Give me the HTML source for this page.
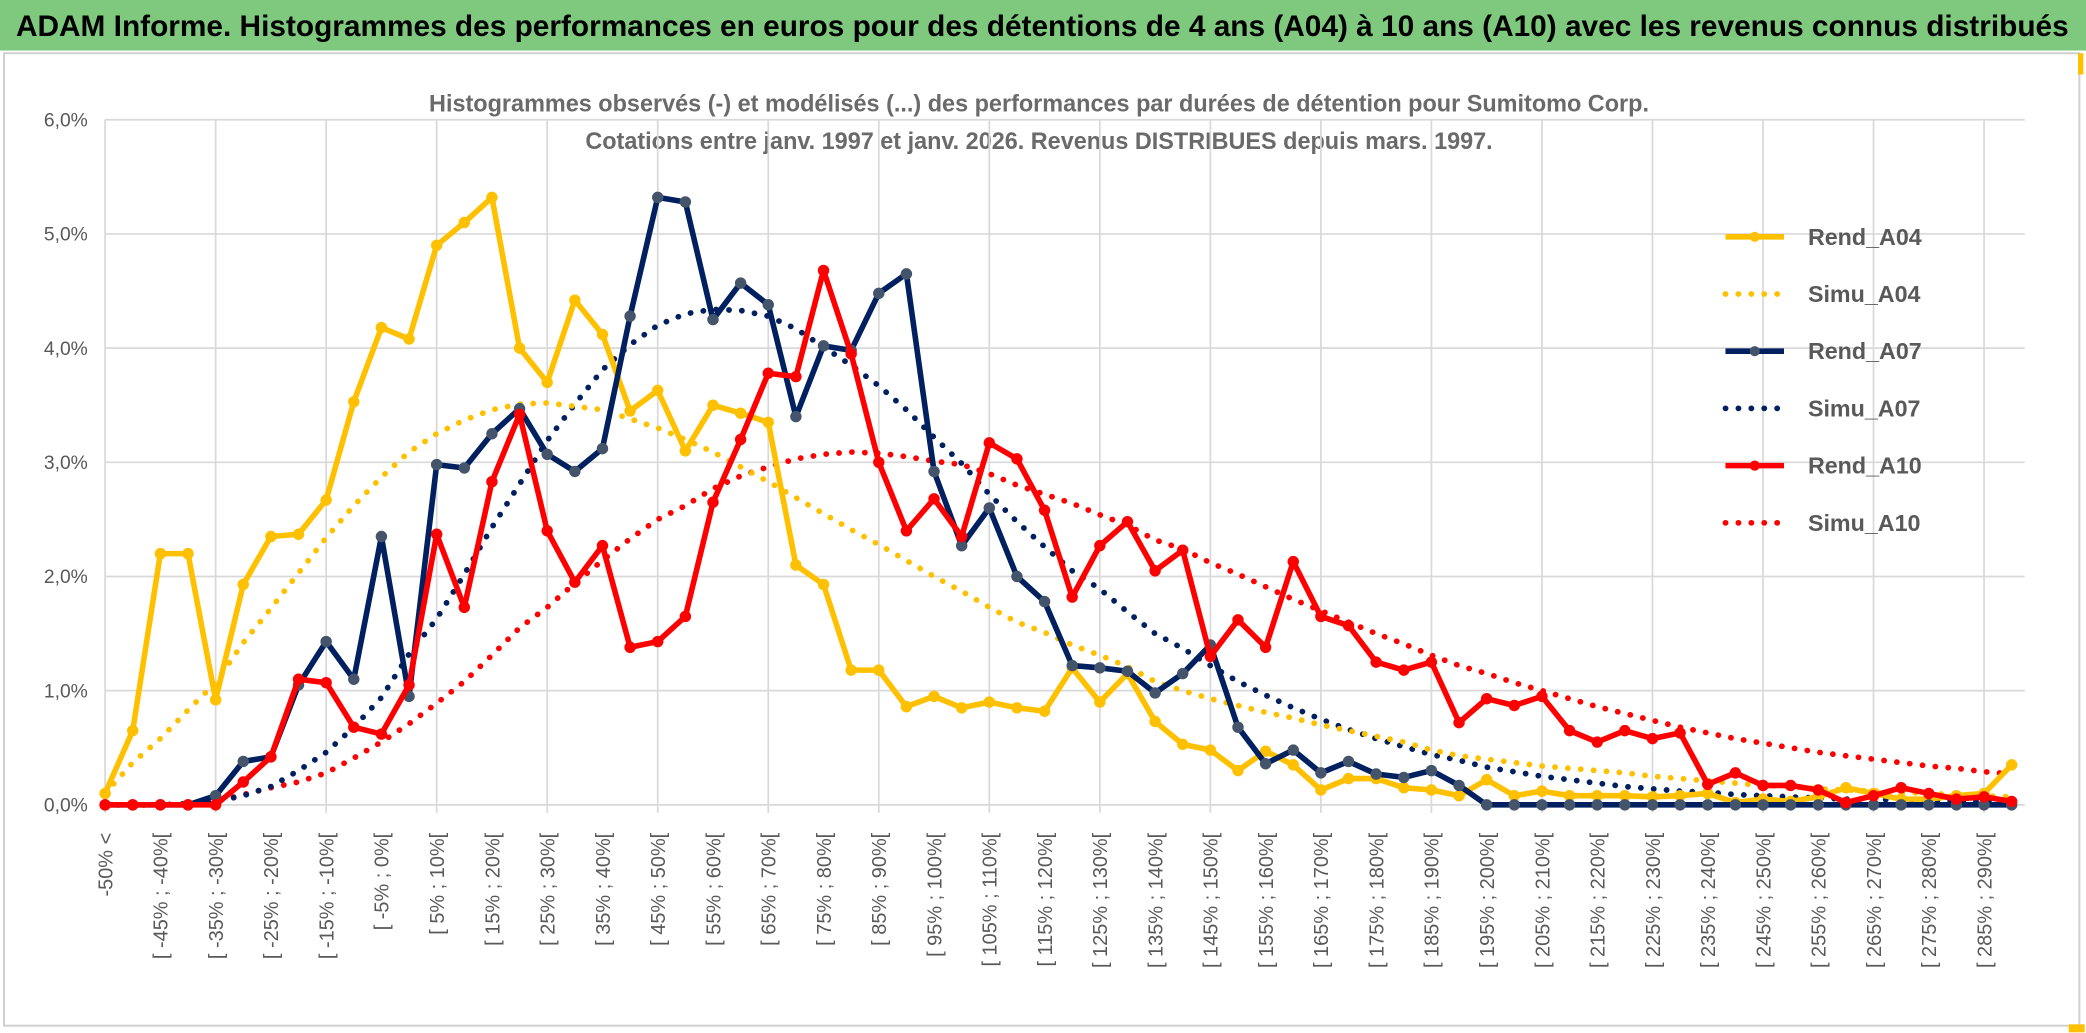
<!DOCTYPE html>
<html><head><meta charset="utf-8">
<style>
html,body{margin:0;padding:0;background:#fff;}
svg{display:block;font-family:"Liberation Sans",sans-serif;}
</style></head>
<body>
<svg id="chart" width="2086" height="1033" viewBox="0 0 1568 776.5" preserveAspectRatio="none" xmlns="http://www.w3.org/2000/svg">
  <rect x="0" y="0" width="1568" height="776.5" fill="#ffffff"/>
  <rect x="0" y="0" width="1568" height="38" fill="#7fc97f"/>
  <text x="12" y="27" font-size="22" font-weight="bold" fill="#000" textLength="1543" lengthAdjust="spacingAndGlyphs">ADAM Informe. Histogrammes des performances en euros pour des détentions de 4 ans (A04) à 10 ans (A10) avec les revenus connus distribués</text>
  <rect x="3" y="40" width="1560" height="731" fill="none" stroke="#d0d0d0" stroke-width="1.5"/>
  <rect x="1562" y="40" width="4" height="16" fill="#ffc000"/>
  <rect x="1555" y="770" width="12" height="6" fill="#ffc000"/>
  <text x="781" y="84" font-size="18" font-weight="bold" fill="#6a6a6a" text-anchor="middle" textLength="917" lengthAdjust="spacingAndGlyphs">Histogrammes observés (-) et modélisés (...) des performances par durées de détention pour Sumitomo Corp.</text>
  <text x="781" y="112" font-size="18" font-weight="bold" fill="#6a6a6a" text-anchor="middle" textLength="682" lengthAdjust="spacingAndGlyphs">Cotations entre janv. 1997 et janv. 2026. Revenus DISTRIBUES depuis mars. 1997.</text>
  <g id="grid"></g>
  <g id="axes"></g>
  <g id="series"></g>
  <g id="legend"></g>
</svg>
<script>
const categories = (function(){ const c = ["-50% <"]; for (let k = 1; k < 70; k++) { const a = -55 + 5*k, b = -50 + 5*k; c.push("[ " + a + "% ; " + b + "%["); } return c; })();
const yTicks = [0,1,2,3,4,5,6];
const yTickLabels = ["0,0%","1,0%","2,0%","3,0%","4,0%","5,0%","6,0%"];
const rendA04 = [0.1,0.65,2.2,2.2,0.92,1.93,2.35,2.37,2.67,3.53,4.18,4.08,4.9,5.1,5.32,4.0,3.7,4.42,4.12,3.45,3.63,3.1,3.5,3.43,3.35,2.1,1.93,1.18,1.18,0.86,0.95,0.85,0.9,0.85,0.82,1.2,0.9,1.15,0.73,0.53,0.48,0.3,0.47,0.35,0.13,0.23,0.23,0.15,0.13,0.08,0.22,0.08,0.12,0.08,0.08,0.08,0.07,0.08,0.1,0.02,0.05,0.03,0.07,0.15,0.1,0.05,0.05,0.08,0.1,0.35];
const simuA04 = [0.1,0.37,0.58,0.83,1.07,1.42,1.72,2.03,2.34,2.62,2.87,3.09,3.25,3.37,3.46,3.51,3.52,3.49,3.46,3.38,3.3,3.2,3.09,2.96,2.83,2.69,2.55,2.41,2.28,2.14,2.0,1.87,1.73,1.6,1.51,1.4,1.31,1.21,1.08,1.0,0.93,0.87,0.81,0.76,0.7,0.65,0.6,0.55,0.48,0.43,0.4,0.37,0.34,0.32,0.3,0.28,0.25,0.23,0.21,0.19,0.17,0.16,0.14,0.13,0.12,0.11,0.1,0.09,0.08,0.07];
const rendA07 = [0,0,0,0,0.08,0.38,0.42,1.05,1.43,1.1,2.35,0.95,2.98,2.95,3.25,3.47,3.07,2.92,3.12,4.28,5.32,5.28,4.25,4.57,4.38,3.4,4.02,3.98,4.48,4.65,2.92,2.27,2.6,2.0,1.78,1.22,1.2,1.17,0.98,1.15,1.4,0.68,0.36,0.48,0.28,0.38,0.27,0.24,0.3,0.17,0,0,0,0,0,0,0,0,0,0,0,0,0,0,0,0,0,0,0,0];
const simuA07 = [0,0,0,0.01,0.03,0.08,0.16,0.3,0.46,0.68,0.94,1.32,1.63,2.02,2.43,2.81,3.19,3.51,3.81,4.03,4.2,4.3,4.34,4.33,4.28,4.17,4.01,3.85,3.67,3.46,3.22,2.99,2.72,2.48,2.26,2.05,1.89,1.69,1.5,1.37,1.22,1.08,0.96,0.85,0.75,0.66,0.58,0.51,0.44,0.39,0.33,0.29,0.25,0.22,0.19,0.16,0.14,0.12,0.11,0.09,0.08,0.07,0.06,0.05,0.05,0.04,0.04,0.03,0.03,0.02];
const rendA10 = [0,0,0,0,0,0.2,0.42,1.1,1.07,0.68,0.62,1.05,2.37,1.73,2.83,3.42,2.4,1.95,2.27,1.38,1.43,1.65,2.65,3.2,3.78,3.75,4.68,3.95,3.0,2.4,2.68,2.35,3.17,3.03,2.58,1.82,2.27,2.48,2.05,2.23,1.3,1.62,1.38,2.13,1.65,1.57,1.25,1.18,1.25,0.72,0.93,0.87,0.95,0.65,0.55,0.65,0.58,0.63,0.18,0.28,0.17,0.17,0.13,0.02,0.08,0.15,0.1,0.05,0.07,0.03];
const simuA10 = [0,0,0,0.01,0.03,0.09,0.15,0.2,0.28,0.41,0.55,0.71,0.89,1.08,1.31,1.55,1.73,1.94,2.14,2.33,2.5,2.62,2.77,2.88,2.96,3.03,3.07,3.09,3.08,3.05,3.01,2.98,2.9,2.8,2.72,2.64,2.54,2.45,2.32,2.24,2.12,2.02,1.91,1.8,1.7,1.6,1.5,1.41,1.31,1.22,1.15,1.07,1.0,0.93,0.86,0.8,0.74,0.68,0.63,0.58,0.54,0.5,0.46,0.43,0.4,0.37,0.34,0.32,0.29,0.27];

const NS = "http://www.w3.org/2000/svg";
const X0 = 79, DX = 20.77, Y0 = 605, DY = 85.83;
function xPos(i){ return X0 + DX*i; }
function yPos(v){ return Y0 - DY*v; }
function mk(tag, attrs, parent){ const e = document.createElementNS(NS, tag); for (const k in attrs) e.setAttribute(k, attrs[k]); parent.appendChild(e); return e; }

const grid = document.getElementById("grid");
const axes = document.getElementById("axes");
const xRight = 1522;
yTicks.forEach((t, k) => {
  const gl = mk("line", {x1: X0, x2: xRight, y1: yPos(t), y2: yPos(t), stroke: "#d9d9d9", "stroke-width": 1.3}, grid);
  
  
  const tl = mk("text", {x: 66, y: yPos(t) + 5, "font-size": 14.5, fill: "#595959", "text-anchor": "end"}, axes);
  tl.textContent = yTickLabels[k];
  
  
});
for (let i = 0; i < categories.length; i += 4) {
  const vl = mk("line", {x1: xPos(i), x2: xPos(i), y1: yPos(6), y2: Y0 + 6, stroke: "#d9d9d9", "stroke-width": 1.3}, grid);
  
  
}
for (let i = 0; i < categories.length; i += 2) {
  const x = xPos(i) + 5.5;
  const lbl = mk("text", {x: 0, y: 0, "font-size": 15, fill: "#595959", "text-anchor": "end", transform: "translate(" + x + ",626) rotate(-90)"}, axes);
  lbl.textContent = categories[i];
  
  
}

const seriesG = document.getElementById("series");
function drawSeries(name, values, color, dotted, markerFill){
  const pts = values.map((v, i) => xPos(i).toFixed(2) + "," + yPos(v).toFixed(2)).join(" ");
  const g = mk("g", {}, seriesG);
  
  
  const attrs = {points: pts, fill: "none", stroke: color, "stroke-linejoin": "round"};
  if (dotted) { attrs["stroke-width"] = 4.3; attrs["stroke-dasharray"] = "0.1 9.6"; attrs["stroke-linecap"] = "round"; }
  else { attrs["stroke-width"] = 4.2; }
  const pl = mk("polyline", attrs, g);
  
  
  if (!dotted) {
    values.forEach((v, i) => {
      const c = mk("circle", {cx: xPos(i), cy: yPos(v), r: 3.8, fill: markerFill, stroke: markerFill}, g);
      
      
    });
  }
}
drawSeries("Simu_A10", simuA10, "#ff0000", true);
drawSeries("Simu_A07", simuA07, "#002060", true);
drawSeries("Simu_A04", simuA04, "#ffc000", true);
drawSeries("Rend_A04", rendA04, "#ffc000", false, "#ffc000");
drawSeries("Rend_A07", rendA07, "#002060", false, "#44546a");
drawSeries("Rend_A10", rendA10, "#ff0000", false, "#ff0000");

const legendNames = ["Rend_A04","Simu_A04","Rend_A07","Simu_A07","Rend_A10","Simu_A10"];
const legendColors = ["#ffc000","#ffc000","#002060","#002060","#ff0000","#ff0000"];
const legendG = document.getElementById("legend");
legendNames.forEach((n, k) => {
  const y = 178 + k*43;
  const g = mk("g", {}, legendG);
  
  
  const dotted = n.indexOf("Simu") === 0;
  const la = {x1: 1297, x2: 1341, y1: y, y2: y, stroke: legendColors[k], "stroke-width": dotted ? 4.3 : 4.2};
  if (dotted) { la["stroke-dasharray"] = "0.1 9.6"; la["stroke-linecap"] = "round"; }
  mk("line", la, g);
  if (!dotted) mk("circle", {cx: 1319, cy: y, r: 3.8, fill: n === "Rend_A07" ? "#44546a" : legendColors[k]}, g);
  const t = mk("text", {x: 1359, y: y + 6, "font-size": 17.5, "font-weight": "bold", fill: "#595959"}, g);
  t.textContent = n;
});
</script>
</body></html>
